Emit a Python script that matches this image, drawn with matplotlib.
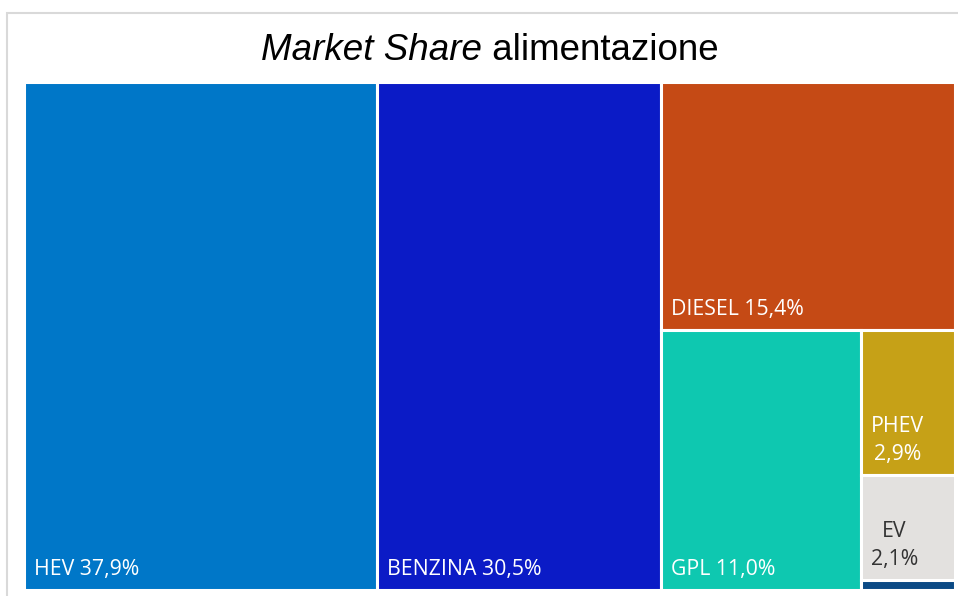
import matplotlib.pyplot as plt
from matplotlib.patches import Rectangle

# --- data ---
labels = ["HEV", "BENZINA", "DIESEL", "GPL", "PHEV", "EV", "Altro"]
shares = [37.9, 30.5, 15.4, 11.0, 2.9, 2.1, 0.2]
show_label = [True, True, True, True, True, True, False]
two_lines = [False, False, False, False, True, True, False]
colors = ["#0077C8", "#0B1BC6", "#C54A15", "#0EC8B0", "#C6A117", "#E3E1DF", "#0B4A85"]
text_colors = ["white", "white", "white", "white", "white", "#333333", "white"]


def worst(row, w):
    s = sum(row)
    return max(max(w * w * r / (s * s), (s * s) / (w * w * r)) for r in row)


def squarify(values, x, y, dx, dy):
    """Squarified treemap; values already scaled to the area dx*dy."""
    rects = []
    values = list(values)
    while values:
        w = min(dx, dy)
        row = [values.pop(0)]
        while values and worst(row + [values[0]], w) <= worst(row, w):
            row.append(values.pop(0))
        s = sum(row)
        if dx >= dy:
            cw = s / dy
            cy = y + dy
            for r in row:
                h = r / cw
                cy -= h
                rects.append((x, cy, cw, h))
            x += cw
            dx -= cw
        else:
            rh = s / dx
            cx = x
            for r in row:
                ww = r / rh
                rects.append((cx, y + dy - rh, ww, rh))
                cx += ww
            dy -= rh
    return rects


W, H = 931.0, 508.0
total = sum(shares)
areas = [v / total * W * H for v in shares]
rects = squarify(areas, 0, 0, W, H)

fig = plt.figure(figsize=(9.58, 5.96), dpi=100)
fig.patches.append(Rectangle((7 / 958, -0.1), 1.1, (596 - 13) / 596 + 0.1,
                             transform=fig.transFigure, fill=False,
                             edgecolor="#D9D9D9", linewidth=1.5))

ax = fig.add_axes([24 / 958, 6 / 596, W / 958, H / 596])
ax.set_xlim(0, W)
ax.set_ylim(0, H)
ax.axis("off")

for (rx, ry, rw, rh), lab, v, c, tc, show, tl in zip(
        rects, labels, shares, colors, text_colors, show_label, two_lines):
    ax.add_patch(Rectangle((rx, ry), rw, rh, facecolor=c, edgecolor="white", linewidth=2.2))
    if not show:
        continue
    val = f"{v:.1f}".replace(".", ",") + "%"
    txt = f"{lab}\n{val}" if tl else f"{lab} {val}"
    ax.text(rx + 10, ry + 10, txt, color=tc, fontsize=15.3, family="Open Sans",
            ha="left", va="bottom", multialignment="center", linespacing=1.45)

# title: italic part + regular part, centred together
t1 = fig.text(0.5, 1 - 50 / 596, "Market Share", fontsize=26.5, style="italic",
              family="Liberation Sans", ha="right", va="center")
t2 = fig.text(0.5, 1 - 50 / 596, " alimentazione", fontsize=26.5,
              family="Liberation Sans", ha="left", va="center")
r = fig.canvas.get_renderer()
w1 = t1.get_window_extent(r).width
w2 = t2.get_window_extent(r).width
cx = 490 / 958 + (w1 - w2) / 2 / fig.bbox.width
t1.set_x(cx)
t2.set_x(cx)

fig.savefig("out.png", dpi=100)
